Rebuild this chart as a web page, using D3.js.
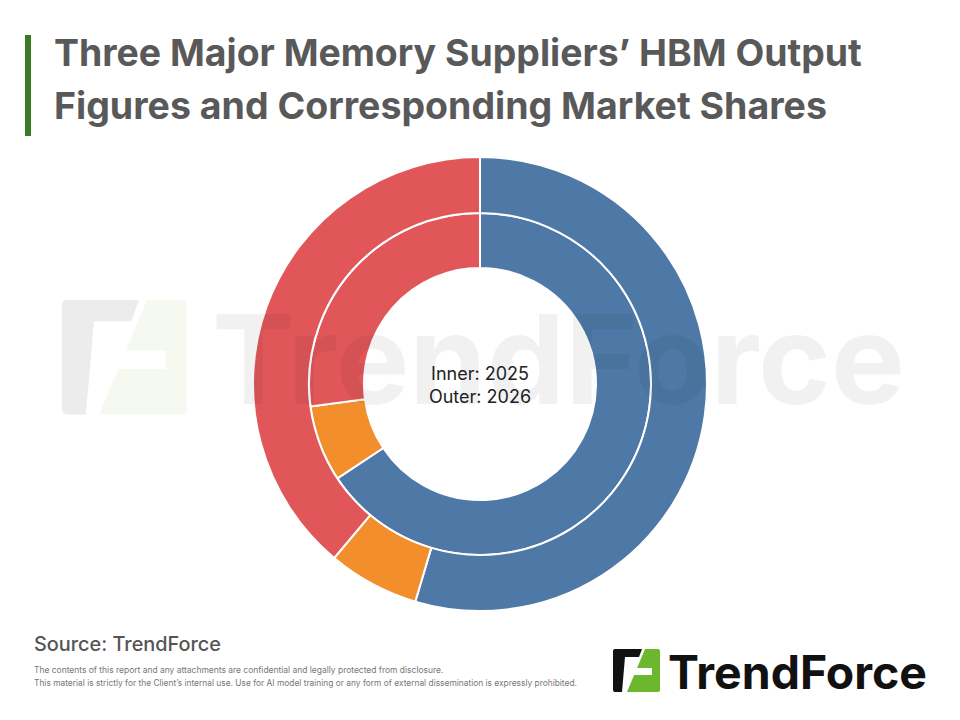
<!DOCTYPE html>
<html><head><meta charset="utf-8">
<script src="https://cdn.jsdelivr.net/npm/d3@7"></script>
<style>html,body{margin:0;padding:0;background:#fff;}svg{display:block;}</style>
</head><body>
<svg id="c" width="960" height="720"></svg>
<script>
const suppliers = ["SK hynix", "Micron", "Samsung"];
const colors = ["#4E79A7", "#F28E2B", "#E15759"];
const share2025 = [65.7, 7.2, 27.1];   // inner ring
const share2026 = [54.6, 6.5, 38.9];   // outer ring
const titleLines = ["Three Major Memory Suppliers’ HBM Output", "Figures and Corresponding Market Shares"];
const centerLabels = ["Inner: 2025", "Outer: 2026"];

const svg = d3.select("#c");
svg.append("rect").attr("width",960).attr("height",720).attr("fill","#fff");

function fit(sel, width){
  const len = sel.node().getComputedTextLength();
  const fs = parseFloat(sel.attr("font-size"));
  sel.attr("font-size", fs*width/len);
  return sel;
}

// Title
svg.append("rect").attr("x",25).attr("y",35).attr("width",6).attr("height",101).attr("fill","#3C7A26");
const tb = [66, 119];
titleLines.forEach((t,i)=>{
  const s = svg.append("text").attr("x",54).attr("y",tb[i]).attr("font-family","Inter, 'Open Sans', sans-serif")
    .attr("font-weight",700).attr("font-size",32).attr("fill","#595959").text(t);
  fit(s, i===0 ? 808 : 773);
});

// Donut
const cx = 480, cy = 384;
const pie = d3.pie().sort(null).value(d=>d);
const g = svg.append("g").attr("transform",`translate(${cx},${cy})`);
const arcIn = d3.arc().innerRadius(116).outerRadius(171);
const arcOut = d3.arc().innerRadius(171).outerRadius(227);
g.selectAll("path.in").data(pie(share2025)).join("path").attr("class","in")
  .attr("d",arcIn).attr("fill",(d,i)=>colors[i]).attr("stroke","#fff").attr("stroke-width",2);
g.selectAll("path.out").data(pie(share2026)).join("path").attr("class","out")
  .attr("d",arcOut).attr("fill",(d,i)=>colors[i]).attr("stroke","#fff").attr("stroke-width",2);

// Icon drawing
function icon(parent, x, y, s, dark, green, slot){
  const ig = parent.append("g").attr("transform",`translate(${x},${y}) scale(${s})`);
  ig.append("path").attr("d","M0,2 Q0,0 2,0 L29,0 L26,8 L12,8 L9,43 L2,43 Q0,43 0,41 Z").attr("fill",dark);
  ig.append("path").attr("d","M32,0 L45,0 Q47,0 47,2 L47,41 Q47,43 45,43 L14,43 Z").attr("fill",green);
  ig.append("path").attr("d","M23,19 L39,19 L39,26 L21,26 Z").attr("fill",slot);
  return ig;
}

// Watermark
icon(svg, 62, 300, 2.66, "#ececec", "#f5f9f0", "#fff");
const wm = svg.append("text").attr("x",212).attr("y",404).attr("font-family","Inter, sans-serif")
  .attr("font-weight",700).attr("font-size",120).attr("fill","#000").attr("fill-opacity",0.055).text("TrendForce");
fit(wm, 693);

// Center labels
centerLabels.forEach((t,i)=>{
  svg.append("text").attr("x",cx).attr("y",380+i*23).attr("text-anchor","middle")
    .attr("font-family","Inter, 'Open Sans', sans-serif").attr("font-size",18).attr("fill","#222").text(t);
});

// Footer
const src = svg.append("text").attr("x",34).attr("y",651).attr("font-family","Inter, sans-serif")
  .attr("font-weight",500).attr("font-size",18).attr("fill","#555").text("Source: TrendForce");
fit(src, 187);
const disc = ["The contents of this report and any attachments are confidential and legally protected from disclosure.",
  "This material is strictly for the Client’s internal use. Use for AI model training or any form of external dissemination is expressly prohibited."];
disc.forEach((t,i)=>{
  const s = svg.append("text").attr("x",34).attr("y",673+i*13).attr("font-family","Inter, sans-serif")
    .attr("font-size",7.5).attr("fill","#777").text(t);
  fit(s, i===0 ? 410 : 544);
});

// Logo
icon(svg, 613, 649, 1, "#111", "#6CB72E", "#fff");
const lt = svg.append("text").attr("x",668).attr("y",689).attr("font-family","Inter, sans-serif")
  .attr("font-weight",700).attr("font-size",50).attr("fill","#111").text("TrendForce");
fit(lt, 259);
</script>
</body></html>
